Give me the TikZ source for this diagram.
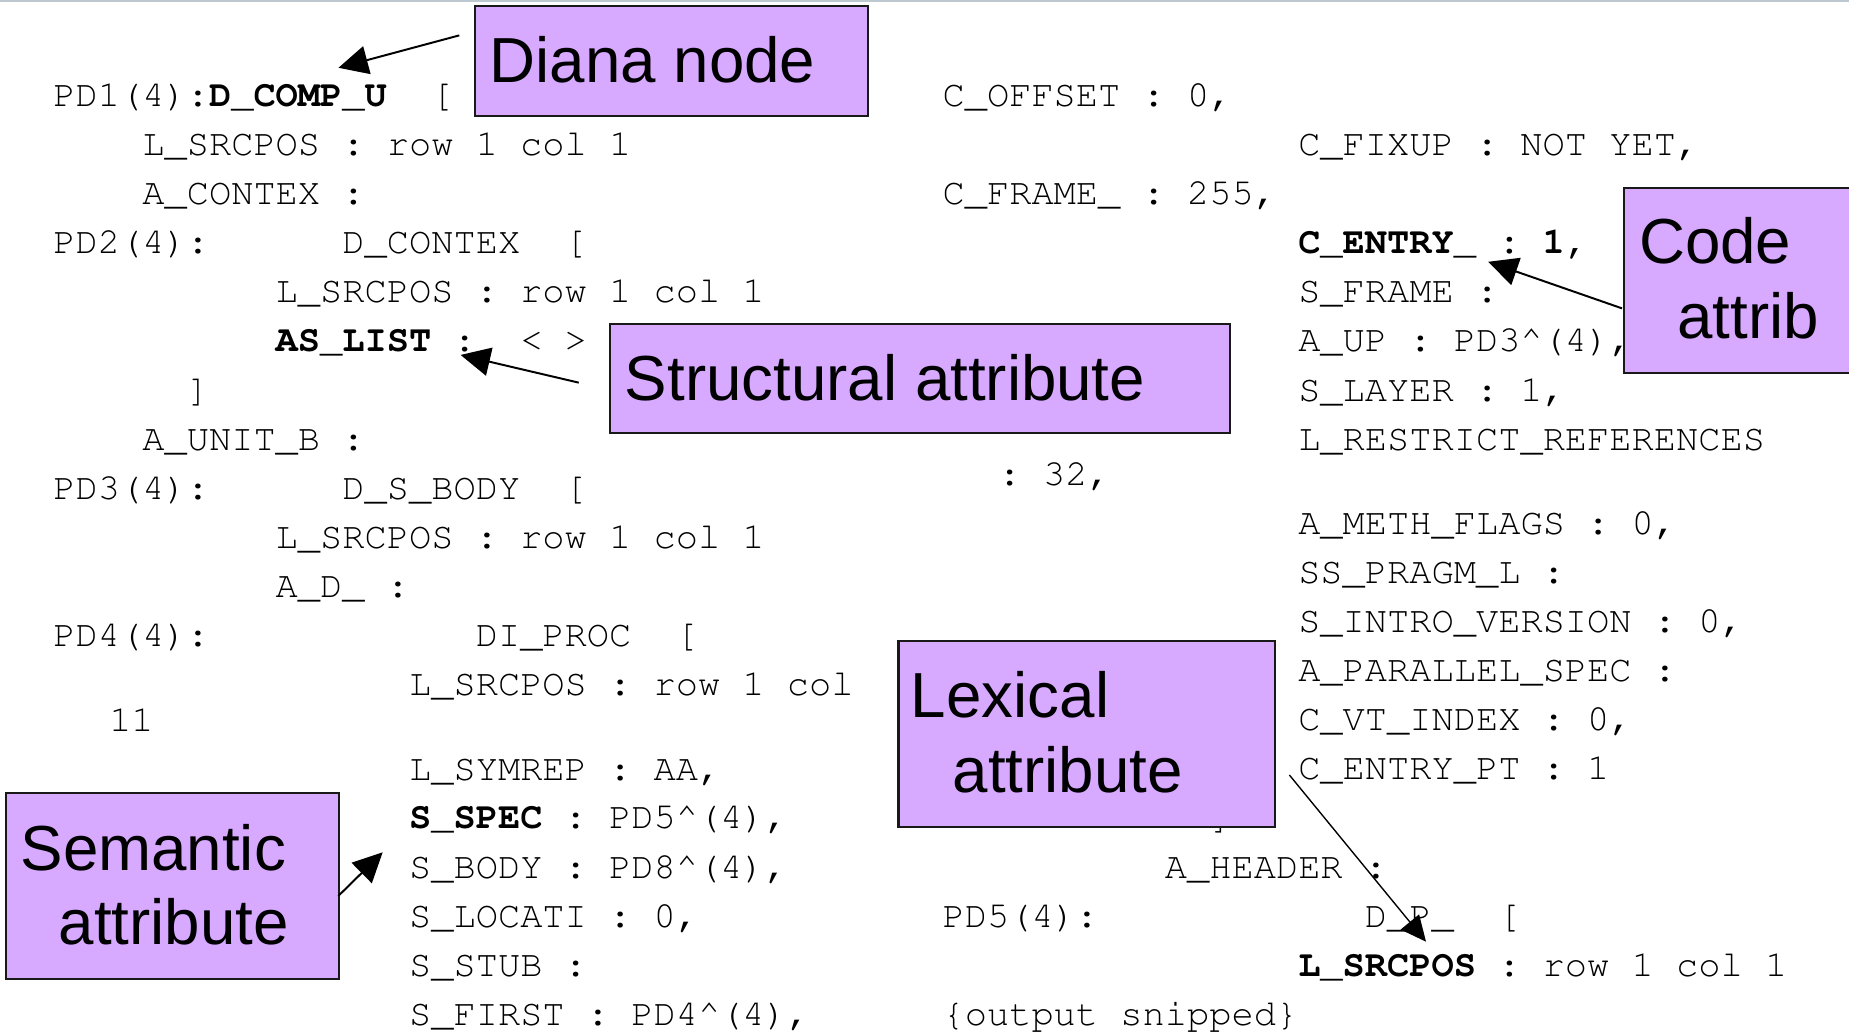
\documentclass[tikz,border=0pt]{standalone}
\usepackage{fontspec}
\newfontfamily\labelfont{Liberation Sans}
\usetikzlibrary{arrows.meta}
\definecolor{notefill}{RGB}{215,170,255}
\definecolor{rulecol}{RGB}{189,200,208}
\newcommand\caret{\char94\relax}
% Courier (URW Type 1) for the node dump, fixed-width spacing
\newcommand\dumpfont{\fontencoding{T1}\fontfamily{pcr}\fontsize{18.85pt}{22pt}\selectfont\frenchspacing}

\begin{document}
\begin{tikzpicture}[x=0.6pt,y=-0.6pt,
  code/.style={font=\dumpfont, anchor=base west, inner sep=0pt},
  note/.style={draw=black!90, line width=1.1pt, fill=notefill, inner sep=0pt, anchor=north west},
  notetext/.style={font=\labelfont\fontsize{32.4pt}{38pt}\selectfont, anchor=base west, inner sep=0pt},
  pointer/.style={-{Triangle[length=15pt,width=14.5pt]}, line width=1pt},
  thinpointer/.style={-{Triangle[length=13pt,width=12pt]}, line width=0.7pt}]

\clip (0,0) rectangle (1568,876);
\fill[white] (0,0) rectangle (1568,876);
\fill[rulecol] (0,0) rectangle (1568,1.8);

% ---- left column of the node dump ----
\node[code] (a1)  at (45,90.5)      {PD1(4):\textbf{D\_COMP\_U}};
\node[code] (a1b) at (365.45,90.5)  {[};
\node[code] (a2)  at (120.4,132.1)  {L\_SRCPOS : row 1 col 1};
\node[code] (a3)  at (120.4,173.7)  {A\_CONTEX :};
\node[code] (a4)  at (45,215.3)     {PD2(4):};
\node[code] (a4b) at (290.05,215.3) {D\_CONTEX};
\node[code] (a4c) at (478.55,215.3) {[};
\node[code] (a5)  at (233.5,256.9)  {L\_SRCPOS : row 1 col 1};
\node[code] (a6)  at (233.5,298.5)  {\textbf{AS\_LIST} :};
\node[code] (a6b) at (440.85,298.5) {< >};
\node[code] (a7)  at (158.1,340.1)  {]};
\node[code] (a8)  at (120.4,381.7)  {A\_UNIT\_B :};
\node[code] (a9)  at (45,423.3)     {PD3(4):};
\node[code] (a9b) at (290.05,423.3) {D\_S\_BODY};
\node[code] (a9c) at (478.55,423.3) {[};
\node[code] (a10) at (233.5,464.9)  {L\_SRCPOS : row 1 col 1};
\node[code] (a11) at (233.5,506.5)  {A\_D\_ :};
\node[code] (a12) at (45,548.1)     {PD4(4):};
\node[code] (a12b) at (403.15,548.1) {DI\_PROC};
\node[code] (a12c) at (572.8,548.1) {[};
\node[code] (a13) at (346.6,589.7)  {L\_SRCPOS : row 1 col};
\node[code, anchor=base] (a14) at (111.5,620) {11};
\node[code] (a15) at (346.6,661.8)  {L\_SYMREP : AA,};
\node[code] (a16) at (346.6,703)    {\textbf{S\_SPEC} : PD5\caret(4),};
\node[code] (a17) at (346.6,744.6)  {S\_BODY : PD8\caret(4),};
\node[code] (a18) at (346.6,786.2)  {S\_LOCATI : 0,};
\node[code] (a19) at (346.6,827.8)  {S\_STUB :};
\node[code] (a20) at (346.6,869.4)  {S\_FIRST : PD4\caret(4),};

% ---- middle column ----
\node[code] (b1) at (799,90.5)     {C\_OFFSET : 0,};
\node[code] (b2) at (799,173.7)    {C\_FRAME\_ : 255,};
\node[code] (b3) at (846.6,411.3)  {: 32,};
\node[code] (b4) at (1025.2,703)   {]};
\node[code] (b5) at (987.5,744.6)  {A\_HEADER :};
\node[code] (b6) at (799,786.2)    {PD5(4):};
\node[code] (b6b) at (1157.15,786.2) {D\_P\_};
\node[code] (b6c) at (1270.25,786.2) {[};
\node[code] (b7) at (1100.6,827.8) {\textbf{L\_SRCPOS} : row 1 col 1};
\node[code] (b8) at (799,869.4)    {\{output snipped\}};

% ---- right column ----
\node[code] (c1)  at (1100.6,132.1) {C\_FIXUP : NOT YET,};
\node[code] (c2)  at (1100.6,215.3) {\textbf{C\_ENTRY\_ : 1,}};
\node[code] (c3)  at (1100.6,256.9) {S\_FRAME :};
\node[code] (c4)  at (1100.6,298.5) {A\_UP : PD3\caret(4),};
\node[code] (c5)  at (1100.6,340.1) {S\_LAYER : 1,};
\node[code] (c6)  at (1100.6,381.7) {L\_RESTRICT\_REFERENCES};
\node[code] (c7)  at (1100.6,453)   {A\_METH\_FLAGS : 0,};
\node[code] (c8)  at (1100.6,494.6) {SS\_PRAGM\_L :};
\node[code] (c9)  at (1100.6,536.2) {S\_INTRO\_VERSION : 0,};
\node[code] (c10) at (1100.6,577.8) {A\_PARALLEL\_SPEC :};
\node[code] (c11) at (1100.6,619.4) {C\_VT\_INDEX : 0,};
\node[code] (c12) at (1100.6,661)   {C\_ENTRY\_PT : 1};

% ---- callout boxes ----
\node[note, minimum width=200.3pt, minimum height=55.9pt] (diana) at (401.6,4.3) {};
\node[notetext] (dianaT) at (415,70.1) {Diana node};

\node[note, minimum width=315.3pt, minimum height=55.4pt] (struct) at (516.5,273.6) {};
\node[notetext] (structT) at (529.6,340) {Structural attribute};

\node[note, minimum width=115.1pt, minimum height=94.1pt] (codeb) at (1376.1,158.3) {};
\node[notetext] (codeT1) at (1389.6,223.3) {Code};
\node[notetext] (codeT2) at (1422.1,286.9) {attrib};

\node[note, minimum width=191.7pt, minimum height=94.5pt] (lexb) at (761,542.7) {};
\node[notetext] (lexT1) at (772.2,608.5) {Lexical};
\node[notetext] (lexT2) at (807.5,671.8) {attribute};

\node[note, minimum width=169.4pt, minimum height=94.6pt] (semb) at (4.3,671.3) {};
\node[notetext] (semT1) at (17.1,738) {Semantic};
\node[notetext] (semT2) at (49.4,801.3) {attribute};

% ---- pointers from the callouts to the dump ----
\coordinate (dianaFrom) at (389.5,30);
\coordinate (dianaTo)   at (287,57.5);
\coordinate (structFrom) at (490.8,324.5);
\coordinate (structTo)   at (390.6,301);
\coordinate (codeFrom) at (1375.5,261.5);
\coordinate (codeTo)   at (1262,222);
\coordinate (semFrom) at (286.9,759.8);
\coordinate (semTo)   at (324.5,722.8);
\coordinate (lexFrom) at (1093.4,657.2);
\coordinate (lexTo)   at (1209.3,798.6);

\draw[pointer] (dianaFrom) -- (dianaTo);
\draw[pointer] (structFrom) -- (structTo);
\draw[pointer] (codeFrom) -- (codeTo);
\draw[pointer] (semFrom) -- (semTo);
\draw[thinpointer] (lexFrom) -- (lexTo);
\end{tikzpicture}
\end{document}
